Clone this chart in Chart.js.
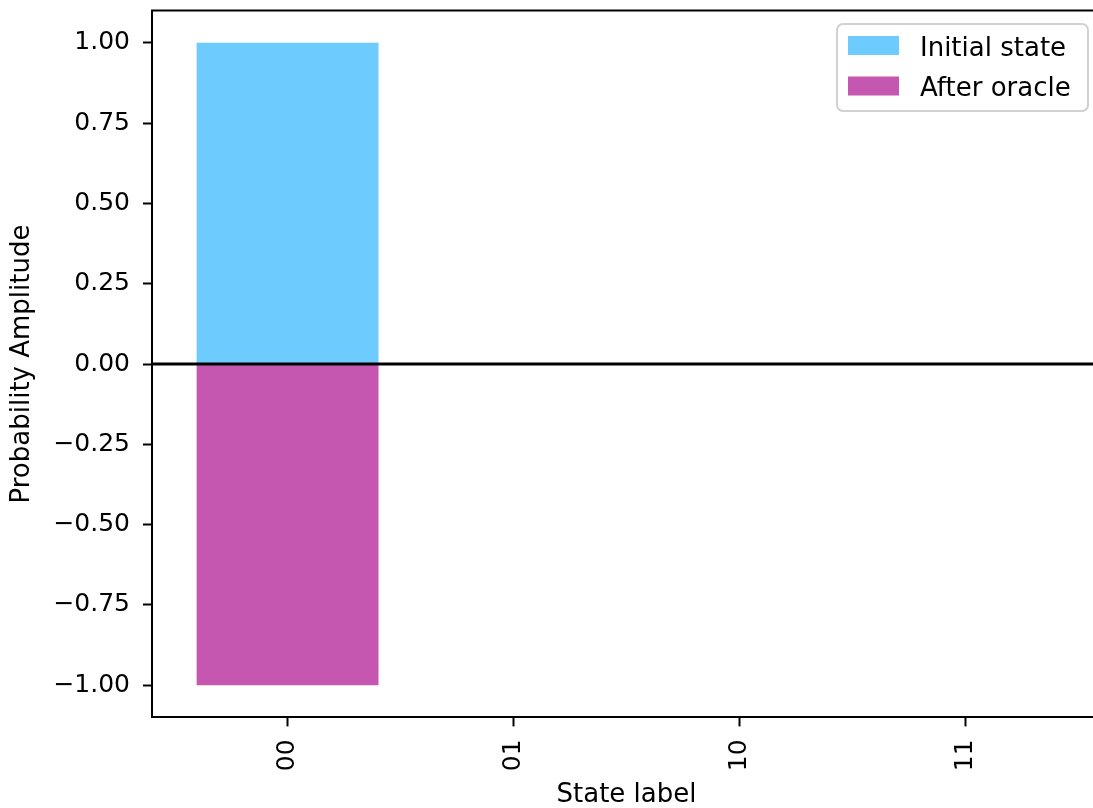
<!DOCTYPE html>
<html>
<head>
<meta charset="utf-8">
<title>Probability amplitudes</title>
<script src="https://cdn.jsdelivr.net/npm/chart.js@4.4.1/dist/chart.umd.min.js"></script>
<style>
  html, body { margin: 0; padding: 0; background: #fff; overflow: hidden; }
  #wrap { position: relative; width: 1101px; height: 808px; }
</style>
</head>
<body>
<div id="wrap"><canvas id="chart" width="1101" height="808"></canvas></div>
<script>
// Basis states of the two-qubit register
const categories = ['00', '01', '10', '11'];
// Amplitudes before and after the oracle flips the marked state
const initialState = [1, 0, 0, 0];
const afterOracle = [-1, 0, 0, 0];
// Axis ticks
const yTickValues = [-1, -0.75, -0.5, -0.25, 0, 0.25, 0.5, 0.75, 1];
const xTickValues = [0, 1, 2, 3];
const seriesNames = ['Initial state', 'After oracle'];
const seriesColors = ['#6ecbfd', '#c657b0'];

const FONT = 'DejaVu Sans';
const FS = 26;

function toPoints(values) {
  return values.map((v, i) => ({ x: i, y: v }));
}

// Black reference line at zero, drawn above the bars
const zeroLine = {
  id: 'zeroLine',
  afterDatasetsDraw(chart) {
    const { ctx, chartArea, scales } = chart;
    const y = scales.y.getPixelForValue(0);
    ctx.save();
    ctx.strokeStyle = '#000';
    ctx.lineWidth = 3;
    ctx.beginPath();
    ctx.moveTo(chartArea.left, y);
    ctx.lineTo(chartArea.right, y);
    ctx.stroke();
    ctx.restore();
  }
};

// Top frame line and framed legend in the upper right corner
const frameAndLegend = {
  id: 'frameAndLegend',
  afterDraw(chart) {
    const { ctx, chartArea } = chart;
    ctx.save();
    ctx.strokeStyle = '#000';
    ctx.lineWidth = 2;
    ctx.beginPath();
    ctx.moveTo(chartArea.left - 1, chartArea.top);
    ctx.lineTo(chartArea.right, chartArea.top);
    ctx.stroke();

    const bx = 837, by = 24, bw = 251, bh = 87, r = 6;
    ctx.fillStyle = 'rgba(255,255,255,0.8)';
    ctx.strokeStyle = 'rgba(204,204,204,0.9)';
    ctx.lineWidth = 2;
    ctx.beginPath();
    ctx.roundRect(bx, by, bw, bh, r);
    ctx.fill();
    ctx.stroke();

    ctx.font = FS + 'px "' + FONT + '"';
    ctx.textAlign = 'left';
    ctx.textBaseline = 'alphabetic';
    chart.data.datasets.forEach((ds, i) => {
      const cy = 45.5 + i * 40.5;
      ctx.fillStyle = ds.backgroundColor;
      ctx.fillRect(848, cy - 9.5, 51, 19);
      ctx.fillStyle = '#000';
      ctx.fillText(ds.label, 920, cy + 10);
    });
    ctx.restore();
  }
};

new Chart(document.getElementById('chart'), {
  type: 'bar',
  data: {
    datasets: [
      { label: seriesNames[0], data: toPoints(initialState), backgroundColor: seriesColors[0] },
      { label: seriesNames[1], data: toPoints(afterOracle), backgroundColor: seriesColors[1] }
    ]
  },
  options: {
    responsive: false,
    animation: false,
    devicePixelRatio: 1,
    grouped: false,
    categoryPercentage: 0.805,
    barPercentage: 1,
    layout: { padding: { top: 10.6, left: 0, right: 0, bottom: 0 } },
    plugins: { legend: { display: false }, tooltip: { enabled: false } },
    scales: {
      x: {
        type: 'linear',
        min: -0.6,
        max: 3.6,
        offset: false,
        afterBuildTicks(scale) { scale.ticks = xTickValues.map(v => ({ value: v })); },
        afterFit(scale) {
          scale.height = 90.6;
          scale.paddingLeft = 0; scale.paddingRight = 0;
        },
        ticks: {
          autoSkip: false,
          minRotation: 90,
          maxRotation: 90,
          padding: 13,
          color: '#000',
          font: { family: FONT, size: 25 },
          callback: (v) => categories[v]
        },
        grid: { display: true, offset: false, drawOnChartArea: false, drawTicks: true, tickLength: 9, tickWidth: 2, tickColor: '#000' },
        border: { display: true, color: '#000', width: 2 },
        title: { display: true, text: 'State label', color: '#000', font: { family: FONT, size: FS, lineHeight: 1.0 }, padding: { top: 0, bottom: 0 } }
      },
      y: {
        type: 'linear',
        min: -1.1,
        max: 1.1,
        afterBuildTicks(scale) { scale.ticks = yTickValues.map(v => ({ value: v })); },
        afterFit(scale) {
          scale.width = 152;
          scale.paddingTop = 0; scale.paddingBottom = 0;
        },
        ticks: {
          padding: 13,
          color: '#000',
          font: { family: FONT, size: 25 },
          callback: (v) => v.toFixed(2).replace('-', '\u2212')
        },
        grid: { display: true, drawOnChartArea: false, drawTicks: true, tickLength: 9, tickWidth: 2, tickColor: '#000' },
        border: { display: true, color: '#000', width: 2 },
        title: { display: true, text: 'Probability Amplitude', color: '#000', font: { family: FONT, size: FS, lineHeight: 1.2 }, padding: { top: 7, bottom: 0 } }
      }
    }
  },
  plugins: [zeroLine, frameAndLegend]
});
</script>
</body>
</html>
